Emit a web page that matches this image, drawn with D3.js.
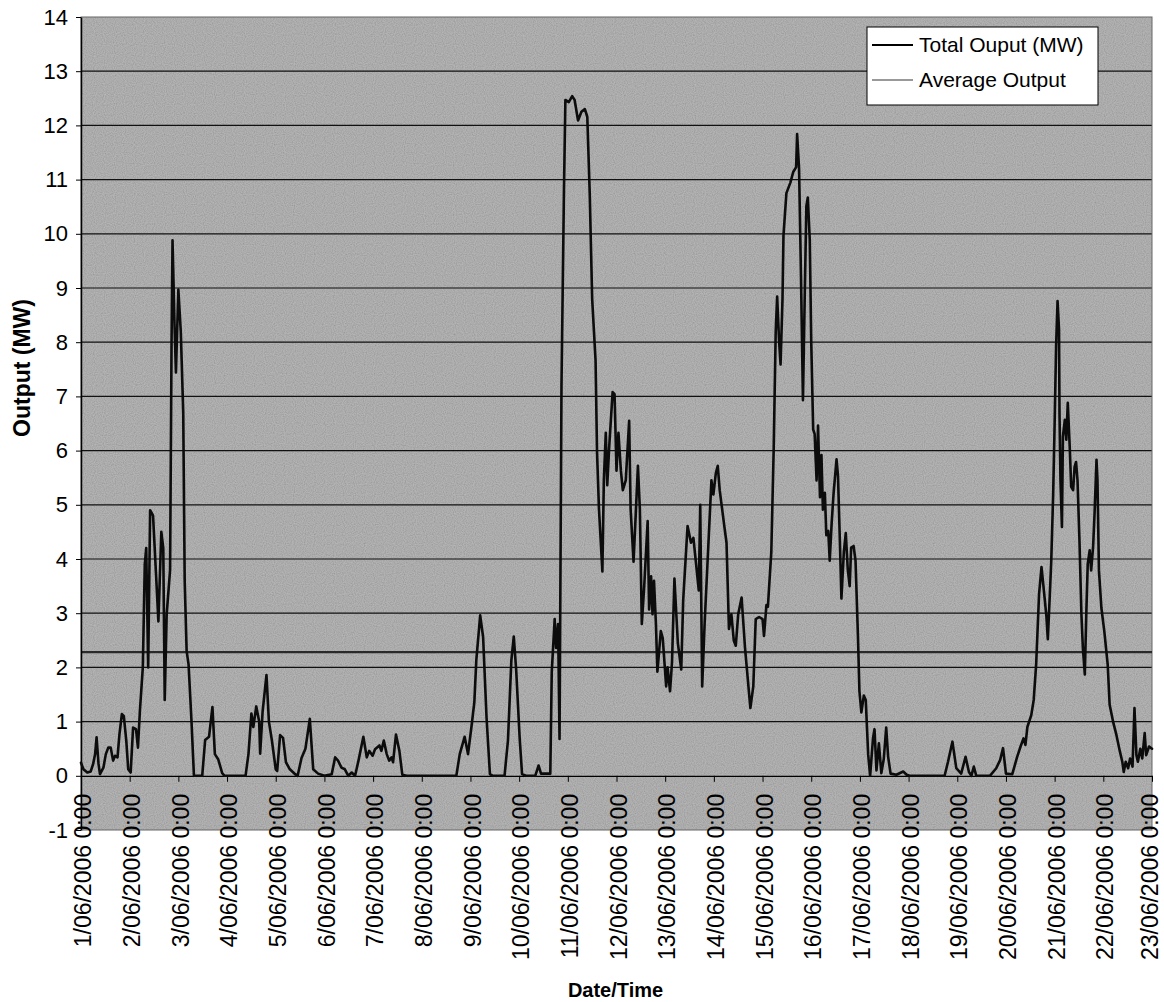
<!DOCTYPE html>
<html>
<head>
<meta charset="utf-8">
<script src="https://cdn.jsdelivr.net/npm/d3@7"></script>
<style>
  html, body { margin: 0; padding: 0; background: #ffffff; }
  svg { display: block; font-family: "Liberation Sans", Arial, sans-serif; }
</style>
</head>
<body>
<svg id="chart" width="1164" height="1002"></svg>
<script>
// ---------------- DATA ----------------
// x = days since 1/06/2006 0:00, y = total output (MW)
const totalOutputSeries = [
  [0.00,0.24],[0.05,0.12],[0.13,0.06],[0.20,0.08],[0.25,0.22],[0.29,0.40],[0.32,0.71],[0.36,0.22],[0.39,0.03],
  [0.46,0.15],[0.51,0.40],[0.56,0.52],[0.61,0.52],[0.66,0.28],[0.70,0.37],[0.75,0.34],[0.79,0.77],[0.84,1.14],
  [0.88,1.10],[0.93,0.65],[0.97,0.12],[1.02,0.06],[1.07,0.89],[1.13,0.86],[1.17,0.52],[1.21,1.20],[1.27,2.00],
  [1.31,3.90],[1.34,4.20],[1.38,2.00],[1.42,4.90],[1.48,4.80],[1.55,3.56],[1.59,2.85],[1.65,4.50],[1.69,4.20],
  [1.72,1.40],[1.76,2.98],[1.83,3.80],[1.86,8.00],[1.88,9.88],[1.92,8.35],[1.95,7.44],[2.00,8.97],[2.05,8.19],
  [2.10,6.70],[2.13,3.60],[2.17,2.30],[2.21,2.05],[2.27,1.00],[2.32,0.00],[2.49,0.00],[2.55,0.66],[2.63,0.72],
  [2.70,1.27],[2.75,0.40],[2.82,0.30],[2.90,0.05],[2.95,0.00],[3.38,0.00],[3.44,0.40],[3.50,1.15],[3.54,0.90],
  [3.60,1.28],[3.66,1.00],[3.68,0.41],[3.73,1.18],[3.81,1.86],[3.86,1.00],[3.92,0.66],[4.00,0.12],[4.03,0.09],
  [4.09,0.75],[4.15,0.70],[4.21,0.25],[4.29,0.12],[4.40,0.03],[4.45,0.00],[4.53,0.33],[4.61,0.50],[4.70,1.05],
  [4.77,0.12],[4.87,0.04],[5.00,0.00],[5.10,0.02],[5.15,0.03],[5.22,0.34],[5.28,0.28],[5.35,0.15],[5.42,0.12],
  [5.49,0.00],[5.56,0.06],[5.63,0.00],[5.70,0.28],[5.80,0.72],[5.87,0.34],[5.92,0.46],[5.99,0.37],[6.04,0.49],
  [6.13,0.56],[6.17,0.46],[6.22,0.65],[6.28,0.40],[6.33,0.28],[6.38,0.34],[6.41,0.25],[6.47,0.76],[6.54,0.46],
  [6.60,0.02],[6.69,0.00],[7.71,0.00],[7.78,0.40],[7.88,0.72],[7.95,0.40],[8.02,0.90],[8.08,1.36],[8.12,2.13],
  [8.20,2.96],[8.26,2.56],[8.33,1.08],[8.40,0.03],[8.46,0.00],[8.70,0.00],[8.77,0.65],[8.84,2.13],[8.89,2.57],
  [8.94,1.94],[9.01,0.71],[9.06,0.03],[9.14,0.00],[9.33,0.00],[9.40,0.19],[9.45,0.04],[9.64,0.04],[9.67,1.92],
  [9.73,2.89],[9.76,2.36],[9.80,2.80],[9.83,0.68],[9.87,7.20],[9.92,10.75],[9.95,12.47],[10.02,12.43],[10.09,12.54],
  [10.14,12.47],[10.21,12.09],[10.28,12.25],[10.35,12.30],[10.40,12.16],[10.45,10.75],[10.50,8.80],[10.57,7.66],
  [10.60,5.98],[10.64,4.92],[10.71,3.77],[10.74,5.45],[10.78,6.33],[10.81,5.36],[10.85,6.07],[10.92,7.08],
  [10.96,7.04],[11.00,5.63],[11.04,6.33],[11.09,5.63],[11.13,5.27],[11.19,5.45],[11.26,6.55],[11.29,4.92],
  [11.35,3.95],[11.40,4.92],[11.44,5.72],[11.48,4.92],[11.52,2.80],[11.57,3.51],[11.64,4.70],[11.67,3.07],
  [11.71,3.68],[11.74,2.98],[11.77,3.60],[11.81,2.80],[11.84,1.92],[11.91,2.67],[11.95,2.54],[12.02,1.65],
  [12.05,2.00],[12.10,1.56],[12.14,2.09],[12.19,3.64],[12.26,2.45],[12.33,1.96],[12.37,3.24],[12.46,4.61],
  [12.53,4.30],[12.58,4.39],[12.64,3.86],[12.69,3.42],[12.72,5.00],[12.76,1.65],[12.81,2.80],[12.88,4.13],
  [12.95,5.45],[12.99,5.19],[13.04,5.58],[13.08,5.72],[13.12,5.27],[13.17,4.92],[13.22,4.57],[13.26,4.30],
  [13.31,2.71],[13.36,2.98],[13.41,2.49],[13.45,2.40],[13.50,2.98],[13.57,3.29],[13.64,2.36],[13.71,1.65],
  [13.75,1.25],[13.81,1.65],[13.86,2.89],[13.93,2.93],[14.00,2.89],[14.03,2.58],[14.08,3.15],[14.11,3.12],
  [14.18,4.13],[14.23,6.07],[14.27,8.18],[14.30,8.84],[14.34,8.02],[14.37,7.59],[14.41,8.80],[14.43,9.97],
  [14.49,10.75],[14.57,10.94],[14.63,11.14],[14.69,11.23],[14.71,11.84],[14.75,11.21],[14.79,9.19],[14.83,6.93],
  [14.87,9.03],[14.90,10.51],[14.93,10.67],[14.97,9.89],[15.00,8.02],[15.04,6.39],[15.07,6.31],[15.11,5.45],
  [15.14,6.46],[15.18,5.14],[15.21,5.92],[15.24,4.91],[15.28,5.22],[15.31,4.44],[15.35,4.52],[15.38,3.97],
  [15.42,4.67],[15.46,5.22],[15.52,5.84],[15.55,5.53],[15.59,4.28],[15.62,3.27],[15.67,4.13],[15.71,4.48],
  [15.75,3.82],[15.79,3.50],[15.82,4.21],[15.87,4.24],[15.91,3.97],[15.96,2.57],[15.99,1.56],[16.03,1.17],
  [16.08,1.48],[16.12,1.40],[16.17,0.39],[16.21,0.00],[16.27,0.70],[16.30,0.86],[16.34,0.10],[16.39,0.60],
  [16.44,0.05],[16.49,0.31],[16.54,0.89],[16.58,0.35],[16.63,0.04],[16.75,0.02],[16.89,0.08],[16.96,0.02],
  [17.02,0.00],[17.74,0.00],[17.81,0.26],[17.90,0.63],[17.98,0.14],[18.08,0.04],[18.17,0.35],[18.24,0.07],
  [18.29,0.00],[18.34,0.17],[18.39,0.00],[18.67,0.00],[18.80,0.14],[18.88,0.29],[18.94,0.51],[19.00,0.04],
  [19.13,0.03],[19.23,0.35],[19.30,0.54],[19.36,0.69],[19.40,0.57],[19.44,0.90],[19.52,1.12],[19.57,1.40],
  [19.62,2.05],[19.68,3.35],[19.73,3.85],[19.77,3.50],[19.83,2.95],[19.86,2.52],[19.90,3.32],[19.93,3.95],
  [19.97,5.20],[20.00,6.50],[20.03,7.93],[20.06,8.76],[20.09,8.24],[20.10,6.69],[20.12,5.45],[20.15,4.59],
  [20.17,6.26],[20.21,6.57],[20.24,6.20],[20.27,6.88],[20.31,6.07],[20.34,5.33],[20.38,5.27],[20.41,5.70],
  [20.44,5.79],[20.47,5.45],[20.51,4.34],[20.55,2.98],[20.58,2.36],[20.62,1.87],[20.65,2.98],[20.68,3.91],
  [20.72,4.16],[20.75,3.79],[20.79,4.22],[20.82,4.84],[20.86,5.83],[20.88,5.45],[20.91,3.79],[20.96,3.10],
  [21.02,2.67],[21.09,2.05],[21.13,1.31],[21.20,1.00],[21.27,0.75],[21.34,0.45],[21.39,0.26],[21.42,0.07],
  [21.46,0.26],[21.51,0.14],[21.55,0.32],[21.60,0.17],[21.64,1.25],[21.68,0.38],[21.71,0.26],[21.76,0.50],
  [21.80,0.32],[21.85,0.79],[21.88,0.38],[21.94,0.54],[22.00,0.50]
];
const averageOutput = 2.28;
const xTickLabels = [
  "1/06/2006 0:00","2/06/2006 0:00","3/06/2006 0:00","4/06/2006 0:00","5/06/2006 0:00","6/06/2006 0:00",
  "7/06/2006 0:00","8/06/2006 0:00","9/06/2006 0:00","10/06/2006 0:00","11/06/2006 0:00","12/06/2006 0:00",
  "13/06/2006 0:00","14/06/2006 0:00","15/06/2006 0:00","16/06/2006 0:00","17/06/2006 0:00","18/06/2006 0:00",
  "19/06/2006 0:00","20/06/2006 0:00","21/06/2006 0:00","22/06/2006 0:00","23/06/2006 0:00"
];
const yTicks = [-1,0,1,2,3,4,5,6,7,8,9,10,11,12,13,14];
const legendLabels = ["Total Ouput (MW)", "Average Output"];
const xTitle = "Date/Time";
const yTitle = "Output (MW)";

// ---------------- LAYOUT ----------------
const svg = d3.select("#chart");
const plot = { left: 81, right: 1152, top: 17, bottom: 830 };

const x = d3.scaleLinear().domain([0, xTickLabels.length - 1]).range([plot.left, plot.right]);
const y = d3.scaleLinear().domain([-1, 14]).range([plot.bottom, plot.top]);

// grey plot area with a light grain (scanned look)
const defs = svg.append("defs");
const f = defs.append("filter").attr("id", "grain").attr("x", 0).attr("y", 0).attr("width", 1).attr("height", 1);
f.append("feTurbulence").attr("type", "fractalNoise").attr("baseFrequency", 0.9).attr("numOctaves", 1).attr("seed", 3).attr("result", "n");
f.append("feColorMatrix").attr("in", "n").attr("type", "matrix")
  .attr("values", "1 0 0 0 0  1 0 0 0 0  1 0 0 0 0  0 0 0 0 0.25");

svg.append("rect")
  .attr("x", plot.left).attr("y", plot.top)
  .attr("width", plot.right - plot.left).attr("height", plot.bottom - plot.top)
  .attr("fill", "#a6a6a6");
svg.append("rect")
  .attr("x", plot.left).attr("y", plot.top)
  .attr("width", plot.right - plot.left).attr("height", plot.bottom - plot.top)
  .attr("fill", "#fff")
  .attr("filter", "url(#grain)");

// gridlines
svg.append("g").selectAll("line")
  .data(yTicks.filter(v => v > 0 && v < 14))
  .join("line")
  .attr("x1", plot.left).attr("x2", plot.right)
  .attr("y1", d => y(d)).attr("y2", d => y(d))
  .attr("stroke", "#111").attr("stroke-width", 1.2);

// plot border
svg.append("rect")
  .attr("x", plot.left).attr("y", plot.top)
  .attr("width", plot.right - plot.left).attr("height", plot.bottom - plot.top)
  .attr("fill", "none").attr("stroke", "#666").attr("stroke-width", 1);

// average line
svg.append("line")
  .attr("x1", plot.left).attr("x2", plot.right)
  .attr("y1", y(averageOutput)).attr("y2", y(averageOutput))
  .attr("stroke", "#2a2a2a").attr("stroke-width", 2.2);

// y axis
const yAxis = svg.append("g")
  .attr("transform", `translate(${plot.left},0)`)
  .call(d3.axisLeft(y).tickValues(yTicks).tickSize(5).tickSizeOuter(0).tickPadding(8).tickFormat(d => String(d)));
yAxis.select(".domain").attr("stroke", "#000").attr("stroke-width", 1.5);
yAxis.selectAll(".tick line").attr("stroke", "#000");
yAxis.selectAll("text").attr("font-size", 22).attr("fill", "#000")
  .attr("font-family", "Liberation Sans, Arial, sans-serif");

// x axis (at y = 0)
const xAxis = svg.append("g")
  .attr("transform", `translate(0,${y(0)})`)
  .call(d3.axisBottom(x).tickValues(d3.range(xTickLabels.length)).tickSize(6).tickSizeOuter(0)
    .tickFormat(i => xTickLabels[i]));
xAxis.select(".domain").attr("stroke", "#000").attr("stroke-width", 1.3);
xAxis.selectAll(".tick line").attr("stroke", "#000");
xAxis.selectAll("text")
  .attr("font-size", 23).attr("fill", "#000")
  .attr("font-family", "Liberation Sans, Arial, sans-serif")
  .attr("text-anchor", "end")
  .attr("transform", "rotate(-90)")
  .attr("x", -18).attr("y", 0)
  .attr("dy", (d, i) => i === xTickLabels.length - 1 ? "0.22em" : "0.42em");

// total output line
const line = d3.line().x(d => x(d[0])).y(d => y(d[1]));
svg.append("path")
  .datum(totalOutputSeries)
  .attr("d", line)
  .attr("fill", "none")
  .attr("stroke", "#0c0c0c")
  .attr("stroke-width", 2.6)
  .attr("stroke-linejoin", "round")
  .attr("stroke-linecap", "round");

// titles
svg.append("text")
  .attr("x", (plot.left + plot.right) / 2 - 1).attr("y", 997)
  .attr("text-anchor", "middle").attr("font-weight", "bold").attr("font-size", 20)
  .text(xTitle);
svg.append("text")
  .attr("transform", "translate(22,368) rotate(-90)")
  .attr("text-anchor", "middle").attr("dy", "0.35em").attr("font-weight", "bold").attr("font-size", 23)
  .text(yTitle);

// legend
const lg = svg.append("g");
lg.append("rect").attr("x", 867).attr("y", 27).attr("width", 231).attr("height", 78)
  .attr("fill", "#fff").attr("stroke", "#000").attr("stroke-width", 1);
const legendStyles = [{ stroke: "#000", w: 2 }, { stroke: "#777", w: 1.6 }];
legendLabels.forEach((lab, i) => {
  const ly = 45 + i * 35;
  lg.append("line").attr("x1", 872).attr("x2", 913).attr("y1", ly).attr("y2", ly)
    .attr("stroke", legendStyles[i].stroke).attr("stroke-width", legendStyles[i].w);
  lg.append("text").attr("x", 919).attr("y", ly).attr("dy", "0.35em")
    .attr("font-size", 21).attr("fill", "#000").text(lab);
});
</script>
</body>
</html>
